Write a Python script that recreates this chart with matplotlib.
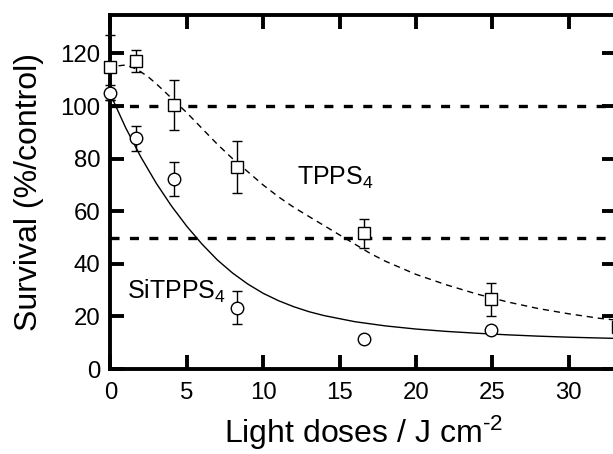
import numpy as np
import matplotlib
matplotlib.use('Agg')
import matplotlib.pyplot as plt

plt.rcParams['font.family'] = ['Liberation Sans', 'DejaVu Sans']
plt.rcParams['mathtext.fontset'] = 'custom'
plt.rcParams['mathtext.rm'] = 'Liberation Sans'
plt.rcParams['mathtext.it'] = 'Liberation Sans:italic'
plt.rcParams['mathtext.default'] = 'regular'
plt.rcParams['lines.scale_dashes'] = False

# measured points (light dose in J/cm2, survival in % of control)
dose = [0, 1.66, 4.15, 8.3, 16.6, 24.9, 33.2]
tpps = [114.7, 117.1, 100.4, 76.9, 51.6, 26.6, 16.0]
tpps_err = [12.3, 4.3, 9.4, 9.8, 5.4, 6.3, 4.4]

dose_si = [0, 1.66, 4.15, 8.3, 16.6, 24.9]
sitpps = [105.1, 87.7, 72.2, 23.3, 11.4, 14.8]
sitpps_err = [2.8, 4.7, 6.5, 6.3, 0, 0]

# fitted curves
fit_x_si = [0, 1, 2, 3, 4, 5, 6, 7, 8, 9, 10, 11, 12, 13, 14, 16, 18, 20, 22, 24, 26, 28, 30, 32, 34]
fit_y_si = [104.5, 91.8, 80.6, 70.7, 62.0, 54.3, 47.5, 41.5, 36.5, 32.3, 28.8, 26.0, 23.7, 21.8, 20.3,
            18.0, 16.4, 15.2, 14.3, 13.6, 13.0, 12.5, 12.1, 11.8, 11.5]

fit_x_tp = [0, 0.5, 1, 1.5, 2, 2.5, 3, 3.5, 4, 5, 6, 7, 8, 9, 10, 11, 12, 13, 14, 15, 16, 17, 18, 19, 20,
            22, 24, 26, 28, 30, 32, 34]
fit_y_tp = [112.5, 115.3, 115.6, 114.6, 113, 111, 108.5, 105.8, 103, 97.5, 91.5, 85.5, 80, 75, 70, 65.5,
            61.5, 58, 54.5, 51, 47.5, 44, 41, 38.5, 36, 32, 28.5, 25.5, 23, 21, 19.3, 18]

ref_levels = [100, 50]

fig = plt.figure(figsize=(6.13, 4.54), dpi=100)
ax = fig.add_axes([0.18, 0.1872, 0.825, 0.779])

for lev in ref_levels:
    ax.axhline(lev, color='black', lw=2.4, dashes=(6.5, 7.5), zorder=1)

ax.plot(fit_x_si, fit_y_si, color='black', lw=1.0, zorder=2)
ax.plot(fit_x_tp, fit_y_tp, color='black', lw=1.0, dashes=(4.5, 3.5), zorder=2)

for xs, ys, es, mk in [(dose, tpps, tpps_err, 's'), (dose_si, sitpps, sitpps_err, 'o')]:
    eb = ax.errorbar(xs, ys, yerr=es, fmt=mk, ms=9, mfc='white', mec='black', mew=1.0,
                     ecolor='black', elinewidth=1.0, capsize=3.6, capthick=1.0, zorder=3)
    for art in eb.get_children():
        art.set_clip_on(False)

ax.text(12.23, 70, 'TPPS$_4$', fontsize=18, va='baseline', ha='left')
ax.text(1.07, 26.6, 'SiTPPS$_4$', fontsize=18, va='baseline', ha='left')

ax.set_xlim(0, 33.1)
ax.set_ylim(0, 134.5)
ax.set_xticks([0, 5, 10, 15, 20, 25, 30])
ax.set_yticks([0, 20, 40, 60, 80, 100, 120])
for s in ax.spines.values():
    s.set_linewidth(2.8)
ax.tick_params(direction='in', length=10, width=2.8, top=True, right=True, labelsize=17.3)
ax.tick_params(axis='x', pad=9)
ax.tick_params(axis='y', pad=7)

ax.set_xlabel(r'Light doses / J cm$^{\text{-2}}$', fontsize=23, labelpad=7)
ax.set_ylabel('Survival (%/control)', fontsize=23, labelpad=12)

fig.savefig('out.png', dpi=100)
